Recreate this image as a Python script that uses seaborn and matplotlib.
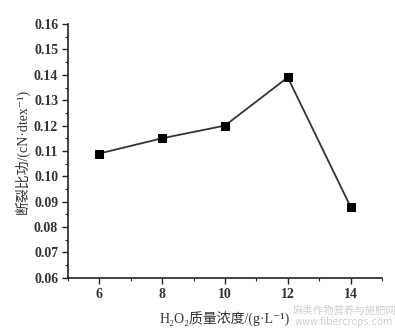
import matplotlib
matplotlib.use("Agg")
import matplotlib.pyplot as plt
import seaborn as sns
import pandas as pd
from matplotlib.ticker import MultipleLocator

conc = [6, 8, 10, 12, 14]
work = [0.109, 0.115, 0.120, 0.139, 0.088]
x_ticks = [6, 8, 10, 12, 14]
y_ticks = [0.06, 0.07, 0.08, 0.09, 0.10, 0.11, 0.12, 0.13, 0.14, 0.15, 0.16]
x_label = "H₂O₂质量浓度/(g·L⁻¹)"
y_label = "断裂比功/(cN·dtex⁻¹)"

sns.set_style("ticks")
fam = ['Liberation Serif', 'Noto Sans CJK SC', 'DejaVu Sans']
plt.rcParams['font.family'] = fam

df = pd.DataFrame({"c": conc, "w": work})
fig = plt.figure(figsize=(3.95, 3.3), dpi=100)
ax = fig.add_axes([0.172, 0.158, 0.795, 0.769])
sns.lineplot(data=df, x="c", y="w", marker="s", color="#333333", markersize=6,
             markerfacecolor="black", markeredgecolor="black", linewidth=1.3, ax=ax)
ax.set_xlim(5, 15)
ax.set_ylim(0.06, 0.16)
ax.set_xticks(x_ticks, [str(v) for v in x_ticks])
ax.set_yticks(y_ticks, [f"{v:.2f}" for v in y_ticks])
ax.xaxis.set_minor_locator(MultipleLocator(1))
ax.yaxis.set_minor_locator(MultipleLocator(0.005))
for s in ["top", "right"]:
    ax.spines[s].set_visible(False)
for s in ["left", "bottom"]:
    ax.spines[s].set_color("#222222")
    ax.spines[s].set_linewidth(1.2)
ax.tick_params(which="major", direction="out", length=4, width=1, colors="#222222",
               labelsize=10, labelcolor="#333333", pad=3)
ax.tick_params(which="minor", direction="out", length=2, width=0.8, colors="#222222")
ax.set_xlabel(x_label, fontsize=10, color="#333333", labelpad=8)
ax.set_ylabel(y_label, fontsize=10, color="#333333", labelpad=3)

fig.text(0.74, 0.05, "麻类作物营养与施肥网", fontsize=7.5, color="#cfcfcf",
         family=['Noto Sans CJK SC'])
fig.text(0.745, 0.014, "www.fibercrops.com", fontsize=7, color="#cfcfcf",
         family=['DejaVu Sans'])
fig.canvas.draw()
for lab in ax.get_xticklabels() + ax.get_yticklabels():
    lab.set_fontweight("bold")
fig.savefig("out.png", dpi=100)
